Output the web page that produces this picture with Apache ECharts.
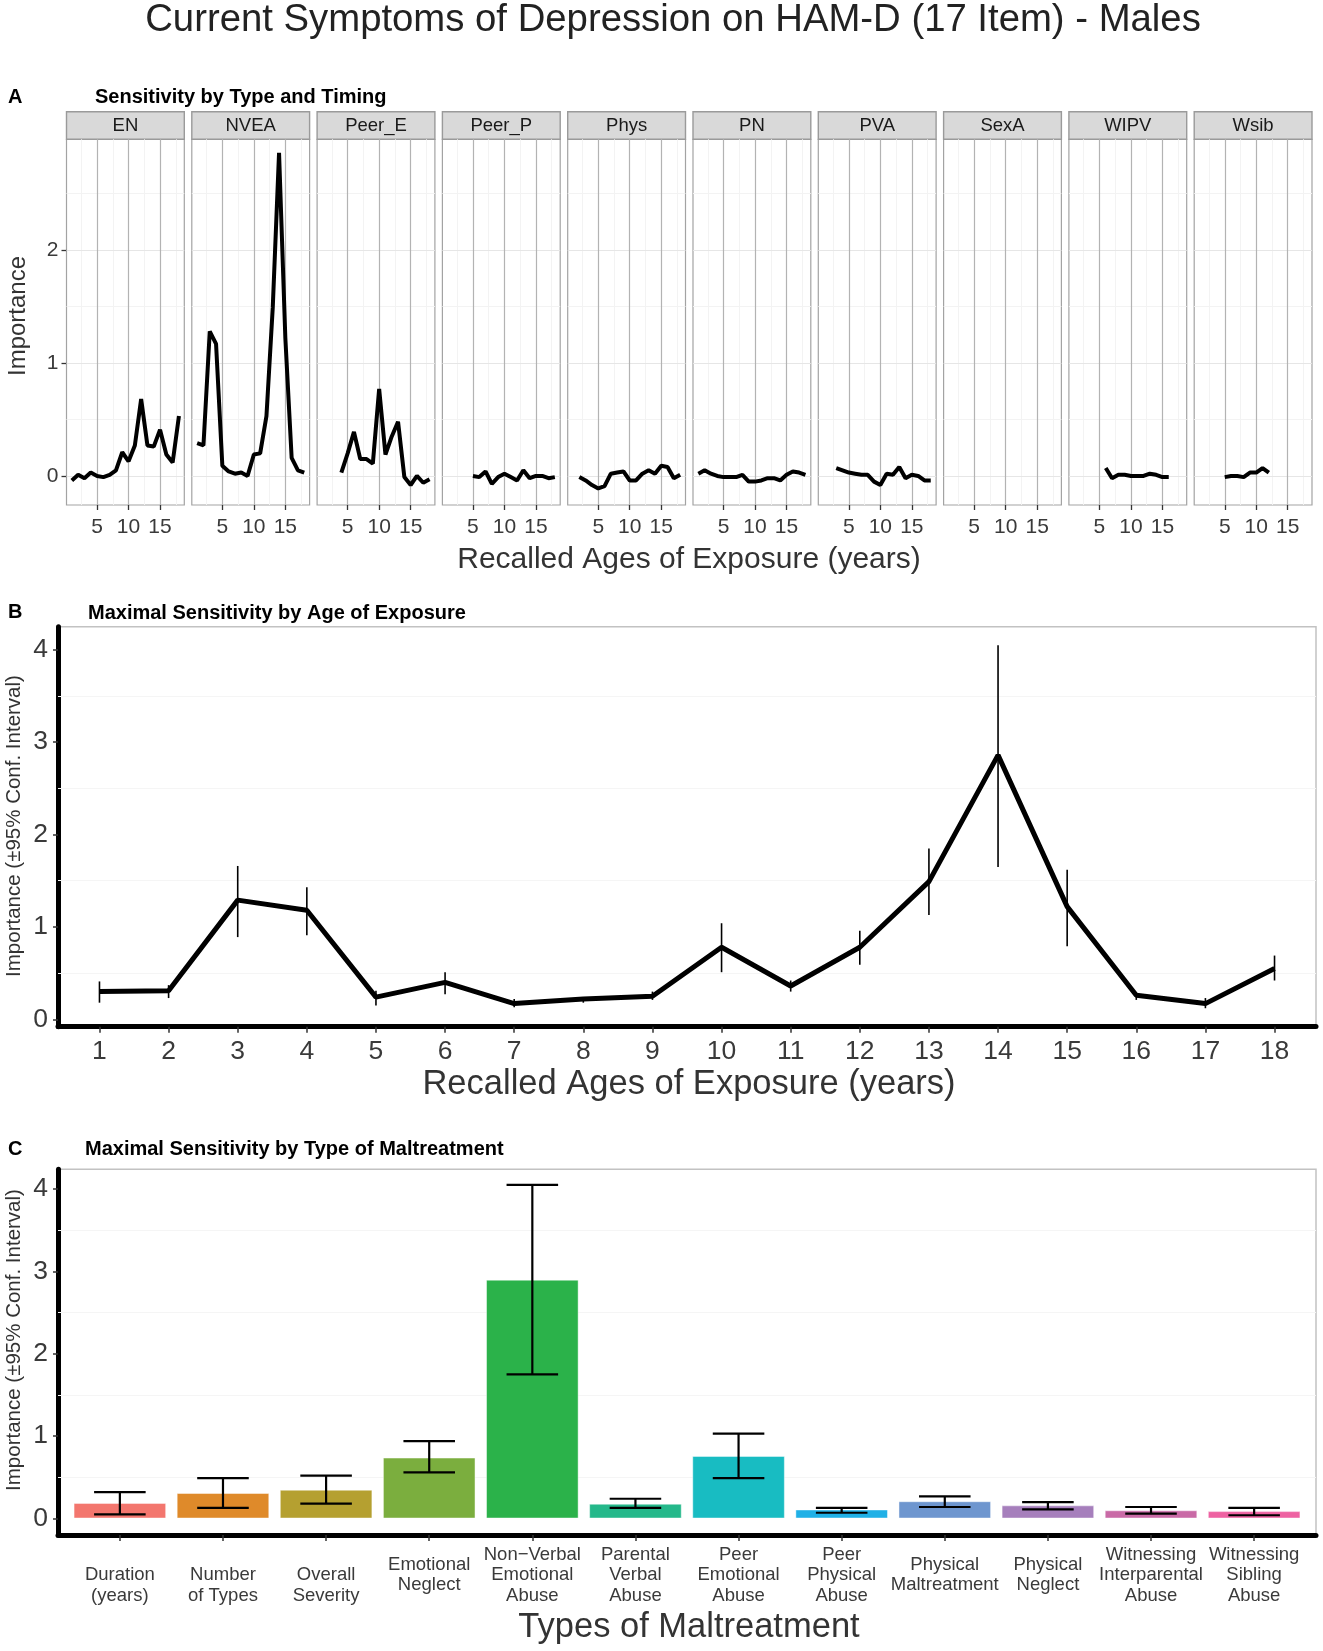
<!DOCTYPE html>
<html>
<head>
<meta charset="utf-8">
<script src="https://cdn.jsdelivr.net/npm/echarts@6/dist/echarts.min.js"></script>
<style>
html,body{margin:0;padding:0;background:#fff;}
#chart{width:1323px;height:1651px;}
</style>
</head>
<body>
<div id="chart"></div>
<script>
// ---- data ----
const ages = [1,2,3,4,5,6,7,8,9,10,11,12,13,14,15,16,17,18];

// panel A: importance by type and age (null = not estimated)
const typeNames = ['EN','NVEA','Peer_E','Peer_P','Phys','PN','PVA','SexA','WIPV','Wsib'];
const enVals    = [-0.04,0.01,-0.02,0.03,0.00,-0.01,0.01,0.05,0.21,0.13,0.27,0.68,0.27,0.26,0.41,0.19,0.12,0.53];
const nveaVals  = [0.29,0.27,1.28,1.17,0.09,0.04,0.02,0.03,0.00,0.19,0.20,0.53,1.49,2.86,1.22,0.16,0.05,0.03];
const peerEVals = [null,null,null,0.03,0.20,0.39,0.15,0.15,0.11,0.77,0.19,0.35,0.48,-0.01,-0.08,0.00,-0.06,-0.03];
const peerPVals = [null,null,null,null,0.00,-0.01,0.04,-0.07,-0.01,0.02,-0.01,-0.04,0.05,-0.02,0.00,0.00,-0.02,-0.01];
const physVals  = [null,-0.01,-0.04,-0.08,-0.11,-0.09,0.02,0.03,0.04,-0.04,-0.04,0.02,0.05,0.02,0.09,0.08,-0.02,0.01];
const pnVals    = [0.02,0.05,0.02,0.00,-0.01,-0.01,-0.01,0.01,-0.05,-0.05,-0.04,-0.02,-0.02,-0.04,0.01,0.04,0.03,0.01];
const pvaVals   = [null,null,0.07,0.05,0.03,0.02,0.01,0.01,-0.05,-0.08,0.02,0.01,0.08,-0.02,0.01,0.00,-0.04,-0.04];
const sexAVals  = [null,null,null,null,null,null,null,null,null,null,null,null,null,null,null,null,null,null];
const wipvVals  = [null,null,null,null,null,0.07,-0.02,0.01,0.01,0.00,0.00,0.00,0.02,0.01,-0.01,-0.01,null,null];
const wsibVals  = [null,null,null,null,-0.01,0.00,0.00,-0.01,0.03,0.03,0.07,0.03,null,null,null,null,null,null];
const typeSeries = [enVals,nveaVals,peerEVals,peerPVals,physVals,pnVals,pvaVals,sexAVals,wipvVals,wsibVals];
const aXTicks = [5,10,15];
const aXMinor = [2.5,7.5,12.5,17.5];
const aYTicks = [0,1,2];
const aYMinor = [0.5,1.5,2.5];

// panel B: maximal sensitivity by age
const bMean = [0.30,0.31,1.29,1.18,0.24,0.40,0.17,0.22,0.25,0.78,0.36,0.78,1.49,2.86,1.22,0.26,0.17,0.55];
const bLow  = [0.18,0.23,0.89,0.91,0.15,0.27,0.13,0.18,0.21,0.51,0.30,0.59,1.13,1.65,0.79,0.21,0.12,0.42];
const bHigh = [0.41,0.37,1.66,1.43,0.31,0.51,0.22,0.24,0.30,1.04,0.42,0.96,1.85,4.05,1.62,0.29,0.23,0.69];
const bcYTicks = [0,1,2,3,4];
const bcYMinor = [0.5,1.5,2.5,3.5];

// panel C: maximal sensitivity by type
const cCats = ['\nDuration\n(years)','\nNumber\nof Types','\nOverall\nSeverity','Emotional\nNeglect',
  'Non\u2212Verbal\nEmotional\nAbuse','Parental\nVerbal\nAbuse','Peer\nEmotional\nAbuse','Peer\nPhysical\nAbuse',
  'Physical\nMaltreatment','Physical\nNeglect','Witnessing\nInterparental\nAbuse','Witnessing\nSibling\nAbuse'];
const cPos  = [1,2,3,4,5,6,7,8,9,10,11,12];
const cMean = [0.19,0.31,0.35,0.74,2.90,0.18,0.76,0.11,0.21,0.16,0.10,0.09];
const cLow  = [0.05,0.13,0.18,0.56,1.75,0.13,0.49,0.07,0.14,0.11,0.06,0.04];
const cHigh = [0.32,0.49,0.52,0.94,4.05,0.24,1.03,0.13,0.27,0.20,0.14,0.13];
const cColors = ['#f3766e','#df8a2a','#b5a030','#7bae3e','#2bb24a','#24b88a','#18bcc2','#20b0e6','#6e96cf','#a67fbc','#c96aa6','#ee62a2'];

// ---- layout ----
const FONT = "'Liberation Sans', Arial, Helvetica, sans-serif";
const TXT = '#3a3a3a';
const chart = echarts.init(document.getElementById('chart'), null, {renderer:'canvas'});

let grids = [], xAxes = [], yAxes = [], series = [], graphics = [];

function gridLines(xs, ys, color, width) {
  let d = [];
  xs.forEach(v => d.push({xAxis: v, lineStyle: {color: color, width: width, type: 'solid'}}));
  ys.forEach(v => d.push({yAxis: v, lineStyle: {color: color, width: width, type: 'solid'}}));
  return d;
}
function bgLines(xi, data) {
  // background grid lines, kept under the data
  return {type: 'line', xAxisIndex: xi, yAxisIndex: xi, data: [], z: 1, silent: true,
    markLine: {silent: true, z: 1, symbol: ['none','none'], label: {show: false}, animation: false, data: data}};
}

// panel A facets
const aLeft = 66.5, aStep = 125.3, aW = 117.8, aTop = 139.3, aH = 365.7;
typeNames.forEach((name, i) => {
  let left = aLeft + i * aStep;
  grids.push({left: left, top: aTop, width: aW, height: aH, show: true,
    borderColor: '#a3a3a3', borderWidth: 1.2, backgroundColor: '#fff'});
  xAxes.push({gridIndex: i, type: 'value', min: 0.15, max: 18.85,
    axisLine: {show: false, onZero: false}, splitLine: {show: false},
    axisTick: {show: true, customValues: aXTicks, length: 5, lineStyle: {color: '#333', width: 1.3}},
    axisLabel: {customValues: aXTicks, margin: 12, fontSize: 21, color: TXT, fontFamily: FONT}});
  yAxes.push({gridIndex: i, type: 'value', min: -0.257, max: 2.98,
    axisLine: {show: false, onZero: false}, splitLine: {show: false},
    axisTick: {show: i === 0, customValues: aYTicks, length: 5, lineStyle: {color: '#333', width: 1.3}},
    axisLabel: {show: i === 0, customValues: aYTicks, margin: 8, fontSize: 21, color: TXT, fontFamily: FONT}});
  series.push(bgLines(i, gridLines(aXMinor, aYMinor, '#f3f3f3', 1)
        .concat(gridLines([], aYTicks, '#e6e6e6', 1.2))
        .concat(gridLines(aXTicks, [], '#b3b3b3', 1.2))));
  series.push({type: 'line', xAxisIndex: i, yAxisIndex: i, z: 3, showSymbol: false, silent: true,
    data: ages.map((a, k) => [a, typeSeries[i][k] == null ? '-' : typeSeries[i][k]]),
    lineStyle: {color: '#000', width: 4}, connectNulls: false});
  graphics.push({type: 'rect', shape: {x: left, y: 111.7, width: aW, height: 27.6},
    style: {fill: '#d9d9d9', stroke: '#9a9a9a', lineWidth: 1.4}});
  graphics.push({type: 'text', x: left + aW / 2, y: 126,
    style: {text: name, fontSize: 18.5, fontFamily: FONT, fill: '#1a1a1a', align: 'center', verticalAlign: 'middle'}});
});

// panel B
const bi = 10;
grids.push({left: 58, right: 7, top: 626.7, bottom: 624.3, show: true, borderColor: '#c2c2c2', borderWidth: 1.5});
xAxes.push({gridIndex: bi, type: 'value', min: 0.4, max: 18.6,
  axisLine: {show: true, onZero: false, lineStyle: {color: '#000', width: 5}}, splitLine: {show: false},
  axisTick: {show: true, customValues: ages, length: 6, lineStyle: {color: '#333', width: 1.5}},
  axisLabel: {customValues: ages, margin: 11, fontSize: 26.5, color: TXT, fontFamily: FONT}});
yAxes.push({gridIndex: bi, type: 'value', min: -0.08, max: 4.25,
  axisLine: {show: true, onZero: false, lineStyle: {color: '#000', width: 5}}, splitLine: {show: false},
  axisTick: {show: true, customValues: bcYTicks, length: 5, lineStyle: {color: '#333', width: 1.5}},
  axisLabel: {customValues: bcYTicks, margin: 10, fontSize: 26.5, color: TXT, fontFamily: FONT}});
series.push(bgLines(bi, gridLines([], bcYMinor, '#f5f5f5', 1.2)));
series.push({type: 'line', xAxisIndex: bi, yAxisIndex: bi, z: 3, showSymbol: false, silent: true,
  data: ages.map((a, k) => [a, bMean[k]]), lineStyle: {color: '#000', width: 5}});
series.push({type: 'custom', xAxisIndex: bi, yAxisIndex: bi, z: 4, silent: true,
  data: ages.map((a, k) => [a, bLow[k], bHigh[k]]),
  renderItem: function (params, api) {
    let p1 = api.coord([api.value(0), api.value(1)]);
    let p2 = api.coord([api.value(0), api.value(2)]);
    return {type: 'line', shape: {x1: p1[0], y1: p1[1], x2: p2[0], y2: p2[1]},
      style: {stroke: '#000', lineWidth: 1.6}};
  }});

// panel C
const ci = 11;
grids.push({left: 58, right: 7, top: 1169.3, bottom: 116, show: true, borderColor: '#c2c2c2', borderWidth: 1.5});
xAxes.push({gridIndex: ci, type: 'value', min: 0.4, max: 12.6,
  axisLine: {show: true, onZero: false, lineStyle: {color: '#000', width: 5}}, splitLine: {show: false},
  axisTick: {show: true, customValues: cPos, length: 6, lineStyle: {color: '#333', width: 1.5}},
  axisLabel: {customValues: cPos, margin: 40, fontSize: 18.5, lineHeight: 20.5, verticalAlign: 'middle',
    color: TXT, fontFamily: FONT, formatter: v => cCats[Math.round(v) - 1]}});
yAxes.push({gridIndex: ci, type: 'value', min: -0.2, max: 4.24,
  axisLine: {show: true, onZero: false, lineStyle: {color: '#000', width: 5}}, splitLine: {show: false},
  axisTick: {show: true, customValues: bcYTicks, length: 5, lineStyle: {color: '#333', width: 1.5}},
  axisLabel: {customValues: bcYTicks, margin: 10, fontSize: 26.5, color: TXT, fontFamily: FONT}});
series.push(bgLines(ci, gridLines([], bcYMinor, '#f5f5f5', 1.2)));
series.push({type: 'bar', xAxisIndex: ci, yAxisIndex: ci, z: 2, barWidth: 92.6, silent: true,
  data: cMean.map((v, k) => ({value: [cPos[k], v],
    itemStyle: {color: cColors[k], borderColor: 'rgba(255,255,255,0.45)', borderWidth: 1}}))});
series.push({type: 'custom', xAxisIndex: ci, yAxisIndex: ci, z: 4, silent: true,
  data: cPos.map((p, k) => [p, cLow[k], cHigh[k]]),
  renderItem: function (params, api) {
    let x = api.value(0);
    let lo = api.coord([x, api.value(1)]);
    let hi = api.coord([x, api.value(2)]);
    let half = api.size([0.25, 0])[0];
    let st = {stroke: '#000', lineWidth: 2.2};
    return {type: 'group', children: [
      {type: 'line', shape: {x1: lo[0], y1: lo[1], x2: hi[0], y2: hi[1]}, style: st},
      {type: 'line', shape: {x1: lo[0] - half, y1: lo[1], x2: lo[0] + half, y2: lo[1]}, style: st},
      {type: 'line', shape: {x1: hi[0] - half, y1: hi[1], x2: hi[0] + half, y2: hi[1]}, style: st}
    ]};
  }});

// titles and labels
function txt(s, x, y, size, opts) {
  opts = opts || {};
  return {type: 'text', x: x, y: y, rotation: opts.rot || 0,
    style: {text: s, fontSize: size, fontFamily: FONT, fontWeight: opts.bold ? 'bold' : 'normal',
      fill: opts.color || '#1a1a1a', align: opts.align || 'center', verticalAlign: 'middle'}};
}
graphics.push(txt('Current Symptoms of Depression on HAM-D (17 Item) - Males', 673, 20, 38.3, {color: '#222'}));
graphics.push(txt('A', 8, 97, 20, {bold: true, align: 'left', color: '#000'}));
graphics.push(txt('Sensitivity by Type and Timing', 95, 97, 20, {bold: true, align: 'left', color: '#000'}));
graphics.push(txt('Importance', 18, 316, 24, {rot: Math.PI / 2, color: '#333'}));
graphics.push(txt('Recalled Ages of Exposure (years)', 689, 560, 30, {color: '#333'}));
graphics.push(txt('B', 8, 612, 20, {bold: true, align: 'left', color: '#000'}));
graphics.push(txt('Maximal Sensitivity by Age of Exposure', 88, 613, 20, {bold: true, align: 'left', color: '#000'}));
graphics.push(txt('Importance (\u00b195% Conf. Interval)', 14, 826, 20.5, {rot: Math.PI / 2, color: '#333'}));
graphics.push(txt('Recalled Ages of Exposure (years)', 689, 1084, 34.5, {color: '#333'}));
graphics.push(txt('C', 8, 1149, 20, {bold: true, align: 'left', color: '#000'}));
graphics.push(txt('Maximal Sensitivity by Type of Maltreatment', 85, 1149, 20, {bold: true, align: 'left', color: '#000'}));
graphics.push(txt('Importance (\u00b195% Conf. Interval)', 14, 1340, 20.5, {rot: Math.PI / 2, color: '#333'}));
graphics.push(txt('Types of Maltreatment', 689, 1627, 34.5, {color: '#333'}));

chart.setOption({
  animation: false,
  backgroundColor: '#fff',
  grid: grids,
  xAxis: xAxes,
  yAxis: yAxes,
  series: series,
  graphic: graphics
});
</script>
</body>
</html>
